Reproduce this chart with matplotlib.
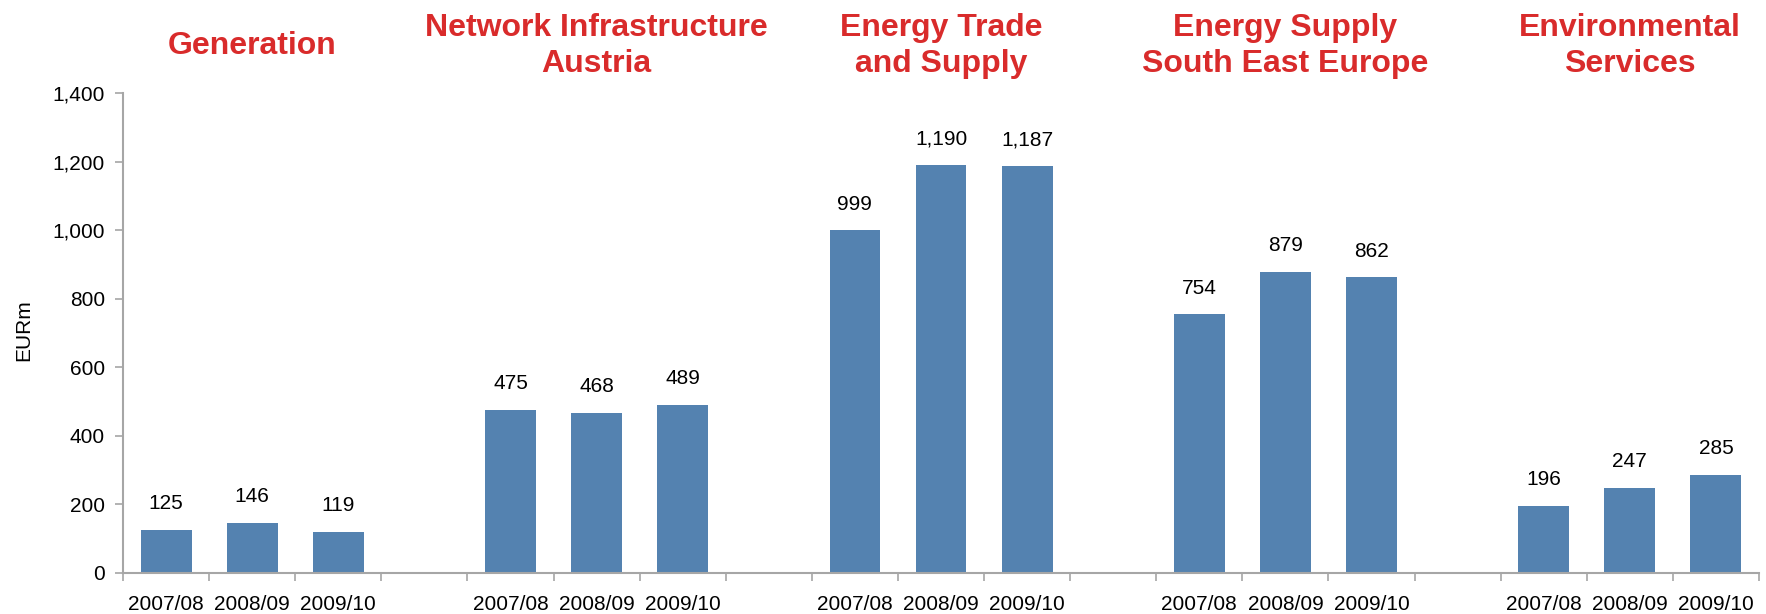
import numpy as np
import matplotlib.pyplot as plt

plt.rcParams['font.family'] = ['Liberation Sans', 'DejaVu Sans']

segments = ['Generation', 'Network Infrastructure\nAustria', 'Energy Trade\nand Supply',
            'Energy Supply\nSouth East Europe', 'Environmental\nServices']
years = ['2007/08', '2008/09', '2009/10']
values = [
    [125, 146, 119],
    [475, 468, 489],
    [999, 1190, 1187],
    [754, 879, 862],
    [196, 247, 285],
]

bar_color = '#5482B0'
title_red = '#D92B2B'
axis_grey = '#A6A6A6'

fig = plt.figure(figsize=(17.66, 6.14), dpi=100)
ax = fig.add_axes([0.0697, 0.0668, 0.9263, 0.7817])

# 3 bars per segment plus one empty slot between segments
positions, heights, labels = [], [], []
for g, vals in enumerate(values):
    for i, v in enumerate(vals):
        positions.append(g * 4 + i)
        heights.append(v)
        labels.append(years[i])

ax.bar(positions, heights, width=0.59, color=bar_color, zorder=2)
for x, v in zip(positions, heights):
    ax.annotate(f'{v:,}', (x, v), xytext=(0, 19), textcoords='offset points',
                ha='center', va='center', fontsize=15, color='black')

n_slots = len(values) * 4 - 1
ax.set_xlim(-0.5, n_slots - 0.5)
ax.set_ylim(0, 1400)
ax.set_yticks(np.arange(0, 1401, 200))
ax.yaxis.set_major_formatter(plt.FuncFormatter(lambda v, p: f'{int(v):,}'))

# category labels at bar centres, tick marks on slot boundaries
ax.set_xticks(positions)
ax.set_xticklabels(labels)
ax.set_xticks(np.arange(-0.5, n_slots, 1), minor=True)
ax.tick_params(axis='x', which='major', length=0, pad=16, labelsize=15)
ax.tick_params(axis='x', which='minor', length=6, width=1.2, color=axis_grey)
ax.tick_params(axis='y', length=6, width=1.2, color=axis_grey, pad=7, labelsize=15)

for side in ['top', 'right']:
    ax.spines[side].set_visible(False)
for side in ['left', 'bottom']:
    ax.spines[side].set_color(axis_grey)
    ax.spines[side].set_linewidth(1.5)

ax.set_ylabel('EURm', fontsize=15)
ax.yaxis.set_label_coords(-0.055, 0.505)

# segment headers above each group
for g, name in enumerate(segments):
    xc = g * 4 + 1
    xfig = fig.transFigure.inverted().transform(ax.transData.transform((xc, 0)))[0]
    fig.text(xfig, 0.925, name, ha='center', va='center', fontsize=23,
             fontweight='bold', color=title_red, linespacing=1.27)

fig.savefig('out.png', dpi=100)
